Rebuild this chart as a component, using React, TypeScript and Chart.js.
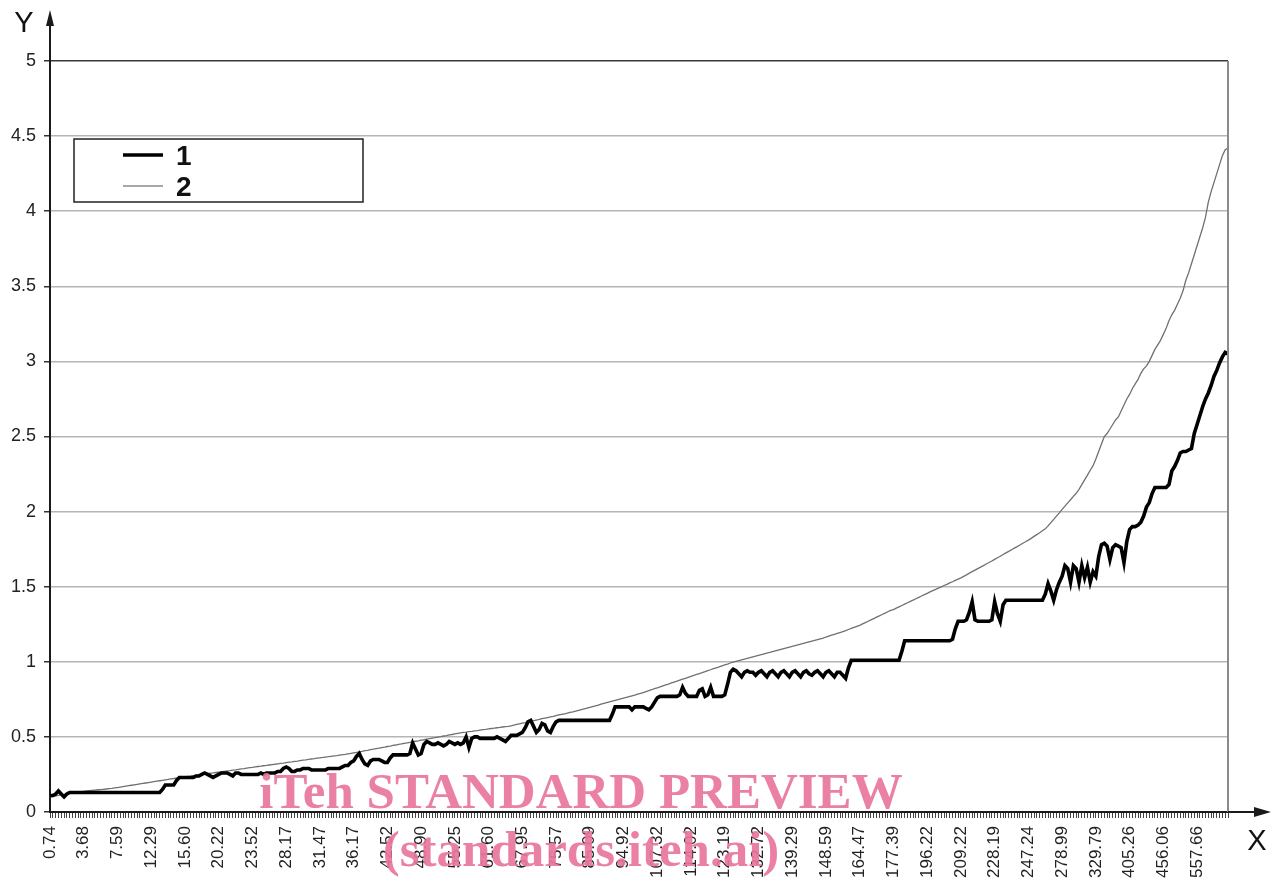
import React, { useEffect, useRef } from "react";
import { Chart, registerables } from "chart.js";

Chart.register(...registerables);

// ---------- data ----------
const xTickLabels = [
  "0.74", "3.68", "7.59", "12.29", "15.60", "20.22", "23.52", "28.17", "31.47", "36.17",
  "42.52", "48.90", "55.25", "61.60", "67.95", "75.57", "85.09", "94.92", "107.32", "114.02",
  "123.19", "132.72", "139.29", "148.59", "164.47", "177.39", "196.22", "209.22", "228.19", "247.24",
  "278.99", "329.79", "405.26", "456.06", "557.66",
];
const pointsPerLabel = 12;

const seriesNames = ["1", "2"];

const series1 = [
  0.11, 0.11, 0.12, 0.14, 0.12, 0.10, 0.12, 0.13, 0.13, 0.13, 0.13, 0.13,
  0.13, 0.13, 0.13, 0.13, 0.13, 0.13, 0.13, 0.13, 0.13, 0.13, 0.13, 0.13,
  0.13, 0.13, 0.13, 0.13, 0.13, 0.13, 0.13, 0.13, 0.13, 0.13, 0.13, 0.13,
  0.13, 0.13, 0.13, 0.13, 0.15, 0.18, 0.18, 0.18, 0.18, 0.21, 0.23, 0.23,
  0.23, 0.23, 0.23, 0.23, 0.24, 0.24, 0.25, 0.26, 0.25, 0.24, 0.23, 0.24,
  0.25, 0.26, 0.26, 0.26, 0.25, 0.24, 0.26, 0.26, 0.25, 0.25, 0.25, 0.25,
  0.25, 0.25, 0.25, 0.26, 0.25, 0.26, 0.26, 0.26, 0.26, 0.27, 0.27, 0.29,
  0.30, 0.29, 0.27, 0.27, 0.28, 0.28, 0.29, 0.29, 0.29, 0.28, 0.28, 0.28,
  0.28, 0.28, 0.28, 0.29, 0.29, 0.29, 0.29, 0.29, 0.30, 0.31, 0.31, 0.33,
  0.34, 0.37, 0.39, 0.35, 0.32, 0.31, 0.34, 0.35, 0.35, 0.35, 0.34, 0.33,
  0.33, 0.36, 0.38, 0.38, 0.38, 0.38, 0.38, 0.38, 0.39, 0.46, 0.42, 0.38,
  0.39, 0.45, 0.47, 0.46, 0.45, 0.45, 0.46, 0.45, 0.44, 0.45, 0.47, 0.46,
  0.45, 0.46, 0.45, 0.46, 0.50, 0.43, 0.49, 0.50, 0.50, 0.49, 0.49, 0.49,
  0.49, 0.49, 0.49, 0.50, 0.49, 0.48, 0.47, 0.49, 0.51, 0.51, 0.51, 0.52,
  0.53, 0.56, 0.60, 0.61, 0.57, 0.53, 0.55, 0.59, 0.58, 0.54, 0.53, 0.57,
  0.60, 0.61, 0.61, 0.61, 0.61, 0.61, 0.61, 0.61, 0.61, 0.61, 0.61, 0.61,
  0.61, 0.61, 0.61, 0.61, 0.61, 0.61, 0.61, 0.61, 0.65, 0.70, 0.70, 0.70,
  0.70, 0.70, 0.70, 0.68, 0.70, 0.70, 0.70, 0.70, 0.69, 0.68, 0.70, 0.73,
  0.76, 0.77, 0.77, 0.77, 0.77, 0.77, 0.77, 0.77, 0.78, 0.83, 0.79, 0.77,
  0.77, 0.77, 0.77, 0.81, 0.82, 0.77, 0.78, 0.83, 0.77, 0.77, 0.77, 0.77,
  0.78, 0.85, 0.93, 0.95, 0.94, 0.92, 0.90, 0.93, 0.94, 0.93, 0.93, 0.91,
  0.93, 0.94, 0.92, 0.90, 0.93, 0.94, 0.92, 0.90, 0.93, 0.94, 0.92, 0.90,
  0.93, 0.94, 0.92, 0.90, 0.93, 0.94, 0.92, 0.91, 0.93, 0.94, 0.92, 0.90,
  0.93, 0.94, 0.92, 0.90, 0.93, 0.93, 0.91, 0.89, 0.96, 1.01, 1.01, 1.01,
  1.01, 1.01, 1.01, 1.01, 1.01, 1.01, 1.01, 1.01, 1.01, 1.01, 1.01, 1.01,
  1.01, 1.01, 1.01, 1.07, 1.14, 1.14, 1.14, 1.14, 1.14, 1.14, 1.14, 1.14,
  1.14, 1.14, 1.14, 1.14, 1.14, 1.14, 1.14, 1.14, 1.14, 1.15, 1.22, 1.27,
  1.27, 1.27, 1.28, 1.33, 1.40, 1.28, 1.27, 1.27, 1.27, 1.27, 1.27, 1.28,
  1.40, 1.32, 1.27, 1.38, 1.41, 1.41, 1.41, 1.41, 1.41, 1.41, 1.41, 1.41,
  1.41, 1.41, 1.41, 1.41, 1.41, 1.41, 1.45, 1.52, 1.47, 1.41, 1.48, 1.53,
  1.57, 1.64, 1.62, 1.53, 1.64, 1.62, 1.53, 1.64, 1.56, 1.63, 1.53, 1.60,
  1.57, 1.70, 1.78, 1.79, 1.77, 1.68, 1.76, 1.78, 1.77, 1.76, 1.66, 1.80,
  1.88, 1.90, 1.90, 1.91, 1.93, 1.97, 2.03, 2.06, 2.12, 2.16, 2.16, 2.16,
  2.16, 2.16, 2.18, 2.27, 2.30, 2.34, 2.39, 2.40, 2.40, 2.41, 2.42, 2.52,
  2.58, 2.64, 2.70, 2.75, 2.79, 2.84, 2.90, 2.94, 2.99, 3.03, 3.06, 3.05,
];

const series2 = [
  0.100, 0.103, 0.107, 0.110, 0.114, 0.117, 0.121, 0.124, 0.127, 0.131, 0.134, 0.136,
  0.138, 0.140, 0.142, 0.144, 0.146, 0.148, 0.149, 0.151, 0.153, 0.155, 0.157, 0.160,
  0.163, 0.166, 0.169, 0.172, 0.175, 0.178, 0.181, 0.184, 0.187, 0.190, 0.193, 0.196,
  0.199, 0.202, 0.205, 0.208, 0.211, 0.214, 0.217, 0.221, 0.223, 0.226, 0.228, 0.231,
  0.234, 0.237, 0.239, 0.242, 0.245, 0.247, 0.250, 0.252, 0.255, 0.258, 0.260, 0.263,
  0.266, 0.268, 0.271, 0.274, 0.276, 0.279, 0.281, 0.284, 0.287, 0.289, 0.292, 0.295,
  0.297, 0.300, 0.303, 0.305, 0.308, 0.310, 0.313, 0.316, 0.318, 0.321, 0.324, 0.326,
  0.329, 0.332, 0.334, 0.337, 0.339, 0.342, 0.345, 0.347, 0.350, 0.353, 0.355, 0.358,
  0.361, 0.363, 0.366, 0.368, 0.371, 0.374, 0.376, 0.379, 0.382, 0.384, 0.387, 0.390,
  0.394, 0.397, 0.401, 0.404, 0.408, 0.411, 0.415, 0.418, 0.422, 0.425, 0.429, 0.432,
  0.436, 0.439, 0.443, 0.446, 0.450, 0.453, 0.457, 0.460, 0.464, 0.467, 0.471, 0.474,
  0.478, 0.481, 0.485, 0.488, 0.492, 0.495, 0.499, 0.502, 0.506, 0.509, 0.513, 0.516,
  0.520, 0.524, 0.527, 0.530, 0.532, 0.535, 0.537, 0.540, 0.542, 0.545, 0.548, 0.550,
  0.553, 0.556, 0.558, 0.561, 0.563, 0.566, 0.568, 0.570, 0.574, 0.579, 0.583, 0.587,
  0.591, 0.595, 0.600, 0.604, 0.608, 0.612, 0.616, 0.621, 0.625, 0.629, 0.633, 0.637,
  0.642, 0.646, 0.650, 0.654, 0.658, 0.663, 0.667, 0.672, 0.677, 0.682, 0.687, 0.692,
  0.697, 0.702, 0.707, 0.712, 0.718, 0.723, 0.728, 0.733, 0.738, 0.743, 0.748, 0.753,
  0.758, 0.763, 0.768, 0.773, 0.778, 0.784, 0.789, 0.795, 0.802, 0.808, 0.814, 0.821,
  0.827, 0.833, 0.840, 0.846, 0.852, 0.859, 0.865, 0.871, 0.878, 0.884, 0.890, 0.897,
  0.903, 0.909, 0.916, 0.922, 0.928, 0.935, 0.941, 0.947, 0.954, 0.960, 0.966, 0.973,
  0.979, 0.985, 0.992, 0.998, 1.003, 1.008, 1.013, 1.018, 1.023, 1.028, 1.033, 1.038,
  1.043, 1.048, 1.053, 1.058, 1.062, 1.067, 1.072, 1.077, 1.082, 1.087, 1.092, 1.097,
  1.102, 1.107, 1.112, 1.117, 1.122, 1.127, 1.132, 1.137, 1.142, 1.147, 1.152, 1.157,
  1.165, 1.171, 1.177, 1.183, 1.189, 1.195, 1.201, 1.207, 1.215, 1.222, 1.229, 1.236,
  1.243, 1.252, 1.261, 1.270, 1.279, 1.288, 1.297, 1.306, 1.315, 1.324, 1.333, 1.342,
  1.348, 1.357, 1.366, 1.375, 1.384, 1.393, 1.402, 1.411, 1.420, 1.429, 1.438, 1.447,
  1.456, 1.465, 1.474, 1.482, 1.491, 1.499, 1.508, 1.516, 1.525, 1.533, 1.542, 1.550,
  1.559, 1.569, 1.579, 1.590, 1.600, 1.610, 1.620, 1.630, 1.640, 1.651, 1.661, 1.671,
  1.682, 1.693, 1.703, 1.714, 1.725, 1.735, 1.746, 1.757, 1.767, 1.778, 1.789, 1.799,
  1.810, 1.822, 1.835, 1.847, 1.859, 1.872, 1.885, 1.905, 1.927, 1.948, 1.970, 1.991,
  2.015, 2.036, 2.058, 2.079, 2.101, 2.122, 2.148, 2.180, 2.211, 2.243, 2.275, 2.306,
  2.35, 2.40, 2.45, 2.50, 2.52, 2.55, 2.58, 2.61, 2.63, 2.67, 2.71, 2.75,
  2.78, 2.82, 2.85, 2.88, 2.92, 2.95, 2.97, 3.00, 3.04, 3.08, 3.11, 3.14,
  3.18, 3.22, 3.27, 3.31, 3.34, 3.38, 3.42, 3.47, 3.54, 3.59, 3.65, 3.71,
  3.77, 3.83, 3.89, 3.96, 4.06, 4.13, 4.19, 4.25, 4.31, 4.37, 4.41, 4.42,
];

const yMin = 0;
const yMax = 5;
const yStep = 0.5;
const axisTitleX = "X";
const axisTitleY = "Y";
const watermarkLines = ["iTeh STANDARD PREVIEW", "(standards.iteh.ai)"];

const categories: string[] = xTickLabels.flatMap((l) => [
  l,
  ...Array(pointsPerLabel - 1).fill(""),
]);

const FONT = "'Liberation Sans', Arial, sans-serif";

const decorPlugin = {
  id: "decor",
  afterDraw(chart: any) {
    const { ctx, chartArea: a } = chart;
    ctx.save();
    // right plot border
    ctx.strokeStyle = "#8a8a8a";
    ctx.lineWidth = 2;
    ctx.beginPath();
    ctx.moveTo(a.right, a.top);
    ctx.lineTo(a.right, a.bottom);
    ctx.stroke();

    // axis extensions with arrows
    ctx.strokeStyle = "#1a1a1a";
    ctx.fillStyle = "#1a1a1a";
    ctx.lineWidth = 2;
    ctx.beginPath();
    ctx.moveTo(a.left, a.top);
    ctx.lineTo(a.left, a.top - 38);
    ctx.stroke();
    ctx.beginPath();
    ctx.moveTo(a.left, a.top - 51);
    ctx.lineTo(a.left - 4, a.top - 35);
    ctx.lineTo(a.left + 4, a.top - 35);
    ctx.closePath();
    ctx.fill();

    ctx.beginPath();
    ctx.moveTo(a.right, a.bottom);
    ctx.lineTo(a.right + 28, a.bottom);
    ctx.stroke();
    ctx.beginPath();
    ctx.moveTo(a.right + 43, a.bottom);
    ctx.lineTo(a.right + 26, a.bottom - 5);
    ctx.lineTo(a.right + 26, a.bottom + 5);
    ctx.closePath();
    ctx.fill();

    // axis titles
    ctx.font = `29px ${FONT}`;
    ctx.textAlign = "center";
    ctx.textBaseline = "middle";
    ctx.fillStyle = "#111";
    ctx.fillText(axisTitleY, a.left - 26, a.top - 37);
    ctx.fillText(axisTitleX, a.right + 29, a.bottom + 30);

    // legend
    const bx = a.left + 24;
    const by = a.top + 78;
    const bw = 289;
    const bh = 63;
    ctx.fillStyle = "#fff";
    ctx.fillRect(bx, by, bw, bh);
    ctx.strokeStyle = "#222";
    ctx.lineWidth = 1.5;
    ctx.strokeRect(bx, by, bw, bh);
    chart.data.datasets.forEach((ds: any, i: number) => {
      const y = by + 16 + i * 31;
      ctx.strokeStyle = i === 0 ? ds.borderColor : "#a8a8a8";
      ctx.lineWidth = i === 0 ? 3.5 : 2;
      ctx.beginPath();
      ctx.moveTo(bx + 49, y);
      ctx.lineTo(bx + 89, y);
      ctx.stroke();
      ctx.fillStyle = "#111";
      ctx.font = `bold 28px ${FONT}`;
      ctx.textAlign = "left";
      ctx.textBaseline = "middle";
      ctx.fillText(ds.label, bx + 102, y + 2);
    });

    // watermark
    ctx.fillStyle = "rgba(232, 118, 156, 0.92)";
    ctx.font = `bold 51px 'Liberation Serif', 'Times New Roman', serif`;
    ctx.textAlign = "center";
    ctx.textBaseline = "alphabetic";
    const cx = a.left + 531;
    ctx.fillText(watermarkLines[0], cx, a.bottom - 4);
    ctx.fillText(watermarkLines[1], cx, a.bottom + 54);
    ctx.restore();
  },
};

export default function App() {
  const canvasRef = useRef<HTMLCanvasElement | null>(null);

  useEffect(() => {
    if (!canvasRef.current) return;
    const chart = new Chart(canvasRef.current, {
      type: "line",
      data: {
        labels: categories,
        datasets: [
          {
            label: seriesNames[0],
            data: series1,
            borderColor: "#000000",
            borderWidth: 3.6,
            pointRadius: 0,
            tension: 0,
            fill: false,
          },
          {
            label: seriesNames[1],
            data: series2,
            borderColor: "#707070",
            borderWidth: 1.3,
            pointRadius: 0,
            tension: 0,
            fill: false,
          },
        ],
      },
      options: {
        responsive: false,
        animation: false,
        devicePixelRatio: 1,
        layout: { padding: { top: 61, right: 52, bottom: 0, left: 0 } },
        plugins: {
          legend: { display: false },
          tooltip: { enabled: false },
          title: { display: false },
        },
        scales: {
          x: {
            type: "category",
            offset: false,
            afterFit: (s: any) => {
              s.height = 71;
            },
            grid: {
              display: true,
              drawOnChartArea: false,
              drawTicks: true,
              tickLength: 6,
              tickColor: "#444",
              tickWidth: 1,
            },
            border: { display: true, color: "#1a1a1a", width: 2 },
            ticks: {
              autoSkip: false,
              minRotation: 90,
              maxRotation: 90,
              padding: 8,
              color: "#222",
              font: { family: FONT, size: 17 },
            },
          },
          y: {
            type: "linear",
            min: yMin,
            max: yMax,
            afterFit: (s: any) => {
              s.width = 50;
            },
            grid: {
              color: (c: any) => (c.tick && c.tick.value === yMax ? "#3a3a3a" : "#b5b5b5"),
              lineWidth: 1.5,
              drawTicks: true,
              tickLength: 6,
              tickColor: "#333",
            },
            border: { display: true, color: "#1a1a1a", width: 2 },
            ticks: {
              stepSize: yStep,
              padding: 8,
              color: "#222",
              font: { family: FONT, size: 18 },
              callback: (v: any) => String(Number(v)),
            },
          },
        },
      },
      plugins: [decorPlugin],
    });
    return () => chart.destroy();
  }, []);

  return (
    <div style={{ position: "absolute", left: 0, top: 0, width: 1280, height: 883, background: "#fff" }}>
      <canvas ref={canvasRef} width={1280} height={883} style={{ display: "block" }} />
    </div>
  );
}
